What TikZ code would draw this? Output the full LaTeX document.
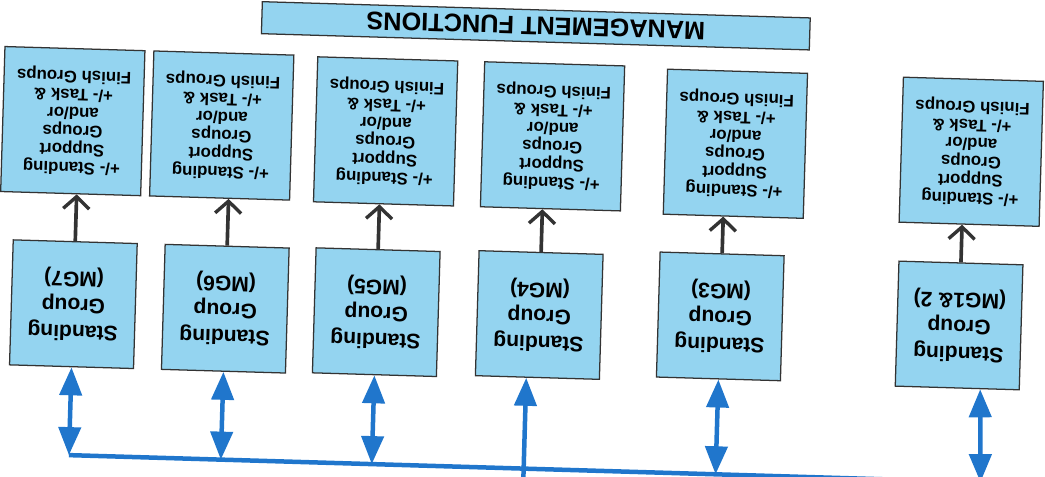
\documentclass[tikz,border=0pt]{standalone}
\usepackage{fontspec}
\setmainfont{Liberation Sans}
\usetikzlibrary{
	positioning,
	arrows.meta
}

\definecolor{boxblue}{RGB}{148,212,240}
\definecolor{busblue}{RGB}{32,118,204}

\begin{document}
\begin{tikzpicture}[
				x=0.025cm, y=0.025cm,
				sgbox/.style={
					draw=black!80,
					fill=boxblue,
					line width=0.9pt,
					minimum width=3.1cm,
					minimum height=3.125cm,
					inner sep=1pt,
					align=center,
					font=\fontsize{15}{19}\selectfont\bfseries
				},
				supbox/.style={
					draw=black!80,
					fill=boxblue,
					line width=0.9pt,
					minimum width=3.5cm,
					minimum height=3.625cm,
					inner sep=1pt,
					align=center,
					font=\fontsize{12}{13}\selectfont\bfseries
				},
				mgmt/.style={
					draw=black!80,
					fill=boxblue,
					line width=0.9pt,
					minimum width=13.7cm,
					minimum height=0.8cm,
					inner sep=1pt,
					font=\fontsize{18}{20}\selectfont\bfseries
				},
				feed/.style={
					-{Straight Barb[length=3mm,width=6.5mm,line width=2.4pt]},
					line width=2.6pt,
					black!80
				},
				busline/.style={
					line width=3.2pt,
					busblue
				},
				duplex/.style={
					busline,
					{Triangle[length=7mm,width=5.5mm]}-{Triangle[length=7mm,width=5.5mm]}
				}
				]
				
				\useasboundingbox (0,0) rectangle (1045,477);
				\clip (0,0) rectangle (1045,477);
				
				% the scanned page lies upside down and a little askew
				\begin{scope}[shift={(522.5,238.5)}, rotate=178.3, transform shape]
				
				\node[sgbox] (mg12) at (-439,74) {Standing\\Group\\(MG1\& 2)};
				\node[sgbox] (mg3) at (-200,72) {Standing\\Group\\(MG3)};
				\node[sgbox] (mg4) at (-19,76) {Standing\\Group\\(MG4)};
				\node[sgbox] (mg5) at (144,78) {Standing\\Group\\(MG5)};
				\node[sgbox] (mg6) at (295,79) {Standing\\Group\\(MG6)};
				\node[sgbox] (mg7) at (447,79) {Standing\\Group\\(MG7)};
				
				\node[supbox] (sup12) at (-446,-100) {
					+/- Standing\\Support\\Groups\\and/or\\+/- Task \&\\Finish Groups
				};
				\node[supbox] (sup3) at (-210,-101) {
					+/- Standing\\Support\\Groups\\and/or\\+/- Task \&\\Finish Groups
				};
				\node[supbox] (sup4) at (-27,-103) {
					+/- Standing\\Support\\Groups\\and/or\\+/- Task \&\\Finish Groups
				};
				\node[supbox] (sup5) at (140,-103) {
					+/- Standing\\Support\\Groups\\and/or\\+/- Task \&\\Finish Groups
				};
				\node[supbox] (sup6) at (304,-104) {
					+/- Standing\\Support\\Groups\\and/or\\+/- Task \&\\Finish Groups
				};
				\node[supbox] (sup7) at (453,-104) {
					+/- Standing\\Support\\Groups\\and/or\\+/- Task \&\\Finish Groups
				};
				
				\node[mgmt] (mf) at (-7,-213) {MANAGEMENT FUNCTIONS};
				
				% standing groups feed their support groups
				\draw[feed] (mg12.south) -- (mg12.south |- sup12.north);
				\draw[feed] (mg3.south) -- (mg3.south |- sup3.north);
				\draw[feed] (mg4.south) -- (mg4.south |- sup4.north);
				\draw[feed] (mg5.south) -- (mg5.south |- sup5.north);
				\draw[feed] (mg6.south) -- (mg6.south |- sup6.north);
				\draw[feed] (mg7.south) -- (mg7.south |- sup7.north);
				
				% bus above the standing groups
				\coordinate (b12) at (-465,230);
				\coordinate (b3) at (-200,230);
				\coordinate (b5) at (144,230);
				\coordinate (b6) at (295,230);
				\coordinate (b7) at (447,230);
				\coordinate (t4) at (-8,260);
				
				\draw[busline] (b12) -- (b7);
				\draw[duplex] (mg12.110) -- (b12);
				\draw[duplex] (mg3.north) -- (b3);
				\draw[busline, -{Triangle[length=7mm,width=5.5mm]}] (t4) -- (mg4.80);
				\draw[duplex] (mg5.north) -- (b5);
				\draw[duplex] (mg6.north) -- (b6);
				\draw[duplex] (mg7.north) -- (b7);
				
				\end{scope}
				
			\end{tikzpicture}
\end{document}
